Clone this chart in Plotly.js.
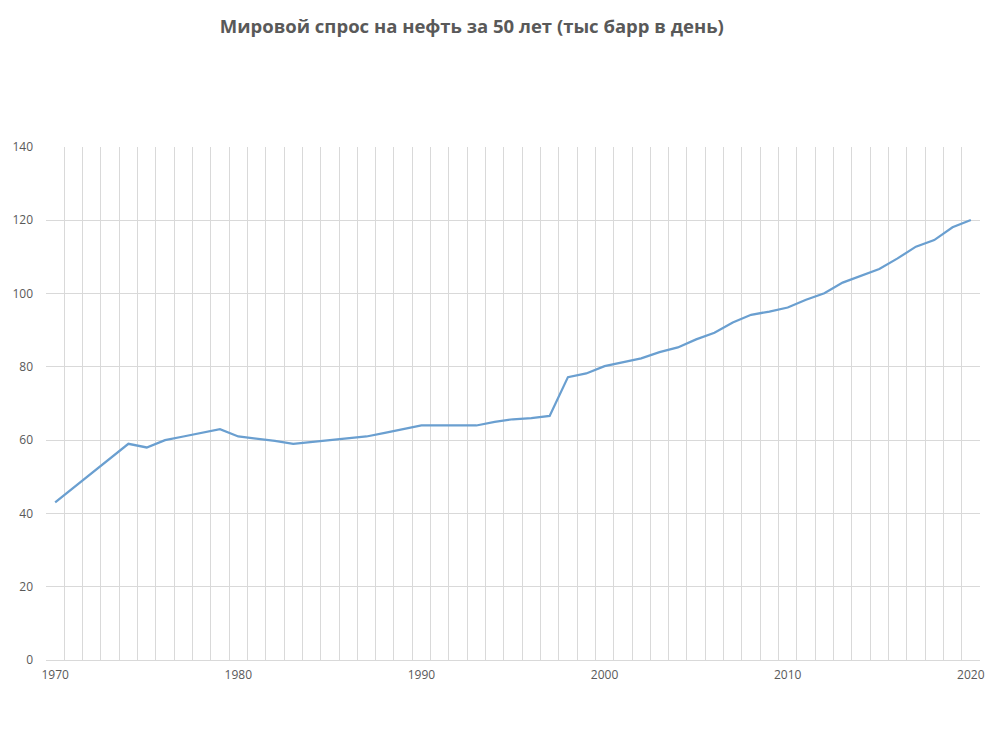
<!DOCTYPE html>
<html>
<head>
<meta charset="utf-8">
<script src="https://cdn.plot.ly/plotly-3.0.1.min.js"></script>
<style>html,body{margin:0;padding:0;background:#fff;overflow:hidden}#chart{width:987px;height:731px}</style>
</head>
<body>
<div id="chart"></div>
<script>
var years = [];
for (var y = 1970; y <= 2020; y++) years.push(y);
var demand = [43, 47, 51, 55, 59, 58, 60, 61, 62, 63,
              61, 60.5, 59.8, 59, 59.5, 60, 60.5, 61, 62, 63,
              64, 64, 64, 64, 65, 65.7, 66, 66.6, 77.2, 78.2,
              80.2, 81.2, 82.3, 84, 85.3, 87.5, 89.3, 92.1, 94.2, 95.1,
              96.2, 98.3, 100.1, 103, 104.8, 106.7, 109.6, 112.8, 114.6, 118.1,
              120.1];
var xTickVals = [1970, 1980, 1990, 2000, 2010, 2020];
var yTickVals = [0, 20, 40, 60, 80, 100, 120, 140];
var titleText = 'Мировой спрос на нефть за 50 лет (тыс барр в день)';

var trace = {
  x: years, y: demand, type: 'scatter', mode: 'lines',
  line: {color: '#6a9fd0', width: 2.25},
  hoverinfo: 'x+y'
};
var font = {family: 'Open Sans, Liberation Sans, sans-serif', size: 12, color: '#595959'};
var layout = {
  width: 987, height: 731,
  margin: {l: 46, r: 7, t: 147, b: 71},
  paper_bgcolor: '#ffffff', plot_bgcolor: '#ffffff',
  showlegend: false,
  title: {text: titleText, font: {family: 'Open Sans, sans-serif', size: 18.5, color: '#595959', weight: 'bold'},
          xref: 'container', x: 0.478, xanchor: 'center', yref: 'container', y: 0.964, yanchor: 'middle'},
  xaxis: {
    range: [1969.5, 2020.5], tickvals: xTickVals, ticktext: xTickVals.map(String),
    showgrid: false, zeroline: false, showline: true, linecolor: '#d9d9d9', linewidth: 1,
    ticks: '', tickfont: font, ticklabelstandoff: 4, ticklabeloverflow: 'allow',
    minor: {tick0: 1969.5, dtick: 1, showgrid: true, gridcolor: '#d9d9d9', gridwidth: 1, ticks: ''}
  },
  yaxis: {
    range: [0, 140], tickvals: yTickVals, showgrid: true, gridcolor: '#d9d9d9', gridwidth: 1,
    zeroline: false, showline: false, ticks: '', tickfont: font, ticklabelstandoff: 12
  }
};
Plotly.newPlot('chart', [trace], layout, {displayModeBar: false, staticPlot: true});
</script>
</body>
</html>
